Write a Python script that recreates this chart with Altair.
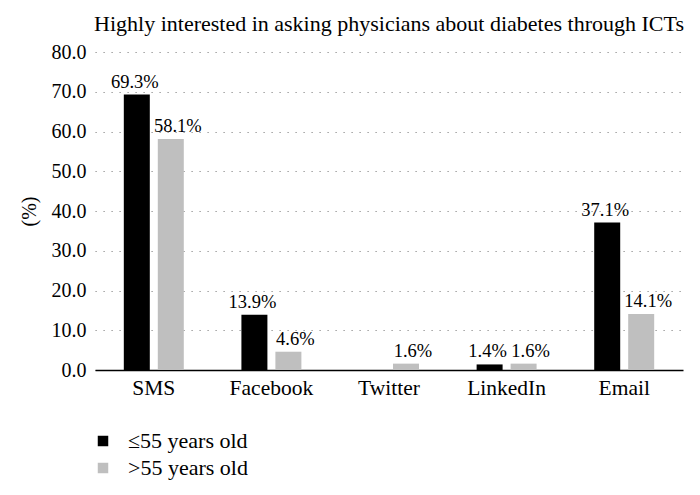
import altair as alt
import pandas as pd

categories = ["SMS", "Facebook", "Twitter", "LinkedIn", "Email"]
young = [69.3, 13.9, 0.0, 1.4, 37.1]
old = [58.1, 4.6, 1.6, 1.6, 14.1]
groups = ["≤55 years old", ">55 years old"]
y_ticks = [0, 10, 20, 30, 40, 50, 60, 70, 80]

rows = []
for c, a, b in zip(categories, young, old):
    rows.append({"platform": c, "group": groups[0], "value": a, "label": f"{a:.1f}%" if a > 0 else ""})
    rows.append({"platform": c, "group": groups[1], "value": b, "label": f"{b:.1f}%" if b > 0 else ""})
df = pd.DataFrame(rows)

FONT = "Liberation Serif"

x_enc = alt.X(
    "platform:N", sort=categories,
    scale=alt.Scale(paddingInner=0.49, paddingOuter=0.245),
    axis=alt.Axis(title=None, labelAngle=0, labelFont=FONT, labelFontSize=21.5,
                  labelColor="black", labelPadding=7, ticks=False,
                  domainColor="black", domainWidth=1.5),
)
xo_enc = alt.XOffset("group:N", sort=groups, scale=alt.Scale(paddingInner=0.235))
y_enc = alt.Y(
    "value:Q", scale=alt.Scale(domain=[0, 80], nice=False),
    axis=alt.Axis(title="(%)", values=y_ticks, format=".1f", labelFont=FONT,
                  labelFontSize=20, labelColor="black", labelPadding=9,
                  ticks=False, domain=False, grid=True, gridColor="#8a8a8a",
                  gridDash=[1.2, 6.8], gridWidth=1.2, titleFont=FONT,
                  titleFontSize=20, titleFontWeight="normal", titleColor="black",
                  titlePadding=12),
)

bars = alt.Chart(df).mark_bar().encode(
    x=x_enc, xOffset=xo_enc, y=y_enc,
    color=alt.Color(
        "group:N", sort=groups,
        scale=alt.Scale(domain=groups, range=["#000000", "#bfbfbf"]),
        legend=alt.Legend(title=None, orient="none", legendX=-3, legendY=378,
                          symbolType="square", symbolSize=110, symbolStrokeWidth=0,
                          labelFont=FONT, labelFontSize=22, labelColor="black",
                          labelOffset=14, rowPadding=5, direction="vertical"),
    ),
)

labels_young = alt.Chart(df).transform_filter(
    (alt.datum.label != "") & (alt.datum.group == groups[0])
).mark_text(
    baseline="bottom", dy=-3, dx=-2, font=FONT, fontSize=18.5, color="black"
).encode(x=x_enc, xOffset=xo_enc, y=y_enc, text="label:N")

labels_old = alt.Chart(df).transform_filter(
    (alt.datum.label != "") & (alt.datum.group == groups[1])
).mark_text(
    baseline="bottom", dy=-3, dx=7, font=FONT, fontSize=18.5, color="black"
).encode(x=x_enc, xOffset=xo_enc, y=y_enc, text="label:N")

chart = alt.layer(bars, labels_young, labels_old).properties(
    width=588, height=318,
    autosize=alt.AutoSizeParams(type="none"),
    padding={"left": 87, "top": 44, "right": 9, "bottom": 117},
    title=alt.TitleParams("Highly interested in asking physicians about diabetes through ICTs",
                          font=FONT, fontSize=22, fontWeight="normal", color="black",
                          anchor="middle", offset=6),
).configure_view(stroke=None)

chart.save("out.html", embed_options={"renderer": "svg", "actions": False})
